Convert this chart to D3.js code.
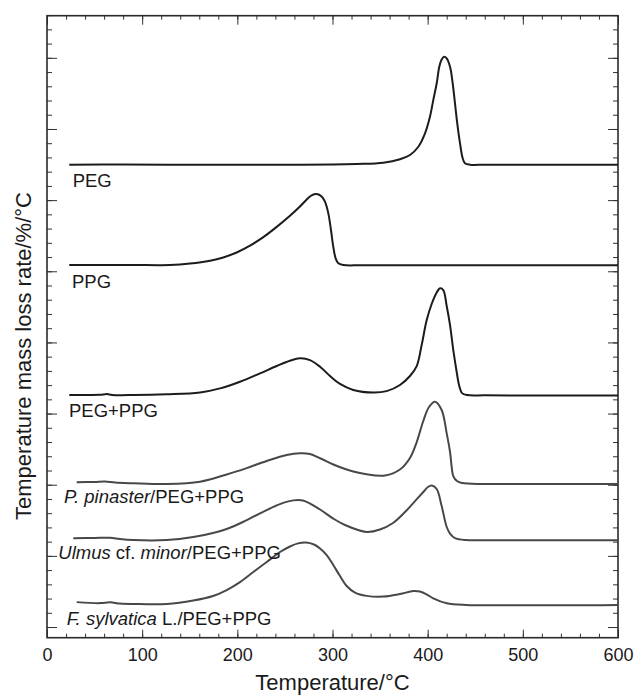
<!DOCTYPE html>
<html>
<head>
<meta charset="utf-8">
<script src="https://cdn.jsdelivr.net/npm/d3@7"></script>
<style>
  body { margin: 0; background: #fff; }
  svg text { font-family: "Liberation Sans", Arial, Helvetica, sans-serif; fill: #1a1a1a; }
</style>
</head>
<body>
<div id="chart"></div>
<script>
// DATA: [temperature °C, stacked rate value]
const peg = [[23.4,32.49],[80,32.50],[150,32.49],[220,32.49],[265.8,32.49],[300,32.50],[325.4,32.54],[353.4,32.63],
  [370.9,32.87],[381.4,33.17],[390.2,33.75],[397.2,34.69],[402.4,35.86],[405.9,37.03],[409.5,38.21],[412.2,39.37],
  [414.7,39.89],[417.2,40.08],[420.0,39.96],[423.5,39.37],[426.3,38.21],[428.7,36.80],[431.1,35.40],[434.0,33.99],
  [436.8,32.94],[439.2,32.59],[444.5,32.49],[460,32.49],[500,32.49],[550,32.49],[600,32.49]];

const ppg = [[23.4,25.44],[60,25.44],[90.7,25.44],[129.2,25.44],[150.3,25.54],[171.3,25.74],[185.2,25.97],[199.3,26.32],
  [213.3,26.80],[227.3,27.40],[241.4,28.12],[255.3,28.90],[265.8,29.55],[272.9,30.05],[278.1,30.34],[283.4,30.43],
  [288.6,30.26],[292.1,29.89],[295.6,29.07],[298.4,27.90],[300.8,26.73],[303.3,25.91],[306.1,25.56],[311.3,25.44],
  [330,25.42],[400,25.42],[480,25.42],[550,25.42],[600,25.42]];

const pegPpg = [[23.4,16.30],[40,16.31],[55.7,16.32],[63.0,16.37],[68.3,16.31],[90.7,16.30],[125.8,16.35],[160.8,16.48],
  [181.8,16.77],[202.8,17.24],[223.8,17.83],[241.4,18.34],[255.3,18.71],[265.8,18.88],[276.3,18.76],[286.9,18.29],
  [297.4,17.64],[307.9,17.08],[321.8,16.66],[342.9,16.48],[356.9,16.58],[370.9,17.01],[381.4,17.64],[388.5,18.34],
  [393.7,19.82],[399.0,21.57],[404.2,22.70],[409.5,23.51],[413.0,23.80],[416.4,23.68],[420.0,22.56],[423.5,21.22],
  [426.9,19.47],[430.5,17.92],[433.2,16.94],[436.1,16.44],[441.3,16.30],[460,16.28],[500,16.27],[550,16.27],[600,16.27]];

const pinaster = [[31.2,10.17],[50.4,10.20],[60.9,10.23],[71.5,10.15],[90.7,10.10],[125.8,10.05],[160.8,10.21],
  [188.8,10.72],[209.8,11.17],[230.9,11.67],[251.9,12.09],[265.8,12.21],[276.3,12.16],[286.9,11.86],[300.8,11.42],
  [314.9,11.07],[335.9,10.73],[355.2,10.65],[370.9,11.07],[381.4,11.88],[388.5,13.00],[395.4,14.48],[401.4,15.46],
  [407.7,15.83],[414.7,15.25],[420.0,13.61],[423.5,12.30],[425.2,11.27],[426.9,10.61],[430.8,10.26],[436.1,10.12],
  [458.4,10.05],[500,10.05],[550,10.05],[600,10.05]];

const ulmus = [[27.6,6.23],[50.4,6.26],[66.2,6.27],[76.7,6.18],[90.7,6.11],[125.8,6.11],[153.7,6.32],[174.4,6.61],
  [188.8,6.89],[205.9,7.38],[223.8,7.99],[244.8,8.64],[258.8,8.90],[269.0,8.89],[286.9,8.26],[300.8,7.62],
  [313.1,7.17],[335.9,6.68],[349.9,6.85],[363.6,7.31],[376.2,8.08],[386.7,8.85],[395.4,9.49],[400.3,9.84],
  [404.5,9.94],[409.5,9.70],[414.7,8.50],[420.0,7.03],[423.5,6.57],[428.7,6.25],[441.0,6.11],[470,6.10],
  [520,6.10],[570,6.10],[600,6.10]];

const sylvatica = [[31.2,1.75],[55.7,1.68],[66.2,1.74],[76.7,1.65],[90.7,1.62],[125.8,1.62],[153.7,1.86],
  [174.4,2.18],[188.8,2.60],[202.8,3.16],[216.8,3.87],[230.9,4.57],[244.8,5.27],[255.3,5.66],[263.7,5.88],
  [272.1,5.94],[280.5,5.80],[286.9,5.52],[293.9,5.06],[300.8,4.36],[307.9,3.58],[314.9,2.88],[323.6,2.42],
  [335.9,2.19],[353.4,2.14],[370.9,2.32],[384.9,2.53],[391.9,2.49],[399.3,2.28],[405.9,2.02],[420.0,1.67],
  [441.0,1.55],[480,1.53],[530,1.53],[570,1.53],[600,1.55]];

// label anchors [temperature, value]
const labelAt = [[27.0,30.90],[26.3,23.82],[23.1,14.78],[17.9,8.71],[11.9,4.78],[20.7,0.14]];

const xTicksMajor = [0,100,200,300,400,500,600];
const xTicksMinor = d3.range(0, 601, 20);
const yTicksMajor = d3.range(0, 43, 5);
const yTicksMinor = d3.range(0, 44, 1);

const series = [
  {data: peg, dark: true, label: [["PEG", false]]},
  {data: ppg, dark: true, label: [["PPG", false]]},
  {data: pegPpg, dark: true, label: [["PEG+PPG", false]]},
  {data: pinaster, dark: false, label: [["P. pinaster", true], ["/PEG+PPG", false]]},
  {data: ulmus, dark: false, label: [["Ulmus", true], [" cf. ", false], ["minor", true], ["/PEG+PPG", false]]},
  {data: sylvatica, dark: false, label: [["F. sylvatica", true], [" L./PEG+PPG", false]]}
];

const w = 636, h = 695;
const padLeft = 47, padRight = 618, padTop = 15.7, padBottom = 637.7;

const svg = d3.select("#chart").append("svg")
  .attr("width", w)
  .attr("height", h);

const x = d3.scaleLinear().domain([0, 600]).range([padLeft, padRight]);
const y = d3.scaleLinear().domain([-0.75, 42.96]).range([padBottom, padTop]);

// AXES (ticks point inside)
function noDomain(g) { g.select(".domain").remove(); g.selectAll("line").attr("stroke", "#333").attr("stroke-width", 1); }

svg.append("g").attr("transform", `translate(0,${padBottom})`)
  .call(d3.axisBottom(x).tickValues(xTicksMinor).tickSize(-4).tickFormat(""))
  .call(noDomain);
svg.append("g").attr("transform", `translate(0,${padBottom})`)
  .call(d3.axisBottom(x).tickValues(xTicksMajor).tickSize(-8).tickPadding(11))
  .call(noDomain)
  .call(g => g.selectAll("text").attr("font-size", 18).attr("fill", "#1a1a1a")
    .style("font-family", '"Liberation Sans", Arial, sans-serif'));
svg.append("g").attr("transform", `translate(0,${padTop})`)
  .call(d3.axisTop(x).tickValues(xTicksMinor).tickSize(-4).tickFormat(""))
  .call(noDomain);
svg.append("g").attr("transform", `translate(0,${padTop})`)
  .call(d3.axisTop(x).tickValues(xTicksMajor).tickSize(-9).tickFormat(""))
  .call(noDomain);

svg.append("g").attr("transform", `translate(${padLeft},0)`)
  .call(d3.axisLeft(y).tickValues(yTicksMinor).tickSize(-5).tickFormat(""))
  .call(noDomain);
svg.append("g").attr("transform", `translate(${padLeft},0)`)
  .call(d3.axisLeft(y).tickValues(yTicksMajor).tickSize(-10).tickFormat(""))
  .call(noDomain);
svg.append("g").attr("transform", `translate(${padRight},0)`)
  .call(d3.axisRight(y).tickValues(yTicksMinor).tickSize(-5).tickFormat(""))
  .call(noDomain);
svg.append("g").attr("transform", `translate(${padRight},0)`)
  .call(d3.axisRight(y).tickValues(yTicksMajor).tickSize(-10).tickFormat(""))
  .call(noDomain);

// FRAME
svg.append("rect")
  .attr("x", padLeft).attr("y", padTop)
  .attr("width", padRight - padLeft).attr("height", padBottom - padTop)
  .attr("fill", "none").attr("stroke", "#2a2a2a").attr("stroke-width", 1.6);

// CURVES
const line = d3.line()
  .x(d => x(d[0]))
  .y(d => y(d[1]))
  .curve(d3.curveCatmullRom.alpha(0.5));

svg.selectAll("path.curve")
  .data(series)
  .enter()
  .append("path")
  .attr("class", "curve")
  .attr("d", d => line(d.data))
  .attr("fill", "none")
  .attr("stroke", d => d.dark ? "#1c1c1c" : "#484848")
  .attr("stroke-width", 2)
  .attr("stroke-linejoin", "round");

// CURVE LABELS
series.forEach((s, i) => {
  const t = svg.append("text")
    .attr("x", x(labelAt[i][0]))
    .attr("y", y(labelAt[i][1]))
    .attr("font-size", 18.5);
  s.label.forEach(part => {
    t.append("tspan")
      .attr("font-style", part[1] ? "italic" : "normal")
      .text(part[0]);
  });
});

// AXIS TITLES
svg.append("text")
  .attr("x", (padLeft + padRight) / 2)
  .attr("y", 690)
  .attr("text-anchor", "middle")
  .attr("font-size", 22)
  .text("Temperature/°C");

svg.append("text")
  .attr("transform", "translate(31,356) rotate(-90)")
  .attr("text-anchor", "middle")
  .attr("font-size", 22)
  .text("Temperature mass loss rate/%/°C");
</script>
</body>
</html>
